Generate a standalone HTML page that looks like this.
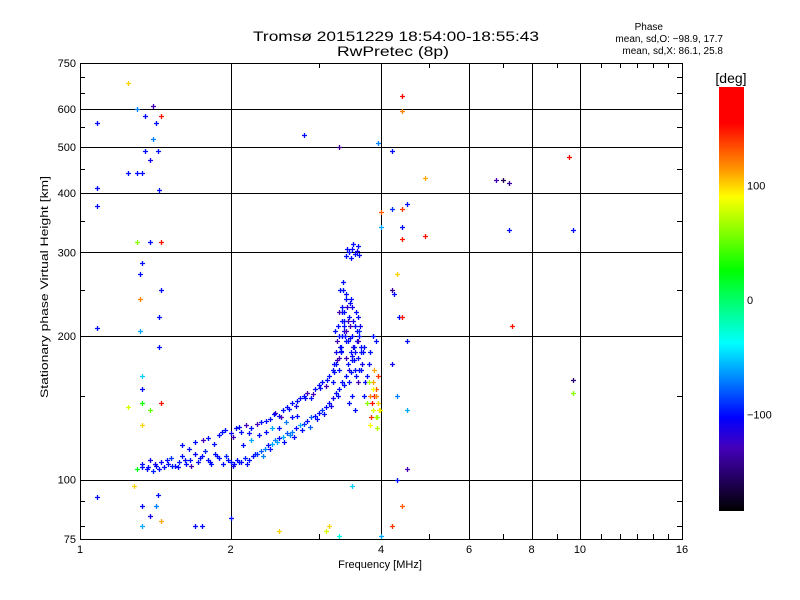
<!DOCTYPE html>
<html><head><meta charset="utf-8"><style>
body{margin:0;background:#fff;}
svg{display:block;font-family:"Liberation Sans",sans-serif;}
</style></head><body>
<svg id="chart" width="800" height="600" viewBox="0 0 800 600">
<rect width="800" height="600" fill="#fff"/>
<text x="396" y="41" font-size="14" text-anchor="middle" textLength="286" lengthAdjust="spacingAndGlyphs">Tromsø 20151229 18:54:00-18:55:43</text>
<text x="393" y="56" font-size="14" text-anchor="middle" textLength="112" lengthAdjust="spacingAndGlyphs">RwPretec (8p)</text>
<g font-size="10" text-anchor="end">
<text x="663" y="30">Phase</text>
<text x="723" y="42">mean, sd,O: −98.9, 17.7</text>
<text x="723" y="54">mean, sd,X:  86.1, 25.8</text>
</g>
<g id="grid"></g>
<g id="points"></g>
<rect x="80.5" y="63.5" width="602" height="476" fill="none" stroke="#000"/>
<g id="xticks" font-size="11" text-anchor="middle"></g>
<g id="yticks" font-size="11" text-anchor="end"></g>
<text x="380" y="568" font-size="11" text-anchor="middle">Frequency [MHz]</text>
<text transform="translate(48,287) rotate(-90)" font-size="11" text-anchor="middle" textLength="222" lengthAdjust="spacingAndGlyphs">Stationary phase Virtual Height [km]</text>
<defs><linearGradient id="cb" x1="0" y1="0" x2="0" y2="1">
<stop offset="0" stop-color="#ff0000"/><stop offset="0.085" stop-color="#ff0000"/><stop offset="0.196" stop-color="#ff9900"/><stop offset="0.259" stop-color="#ffff00"/><stop offset="0.432" stop-color="#00ff00"/><stop offset="0.604" stop-color="#00ffff"/><stop offset="0.78" stop-color="#0000ff"/><stop offset="0.85" stop-color="#4400bb"/><stop offset="1" stop-color="#000000"/>
</linearGradient></defs>
<rect x="719" y="87" width="25" height="424" fill="url(#cb)"/>
<text x="731" y="83" font-size="14" text-anchor="middle">[deg]</text>
<g id="cbticks" font-size="11"></g>
</svg>
<script>
const xTicks=[1,2,4,6,8,10,16];
const xGrid=[2,4,6,8,10];
const xMinor=[3,5,7,9,11,12,13,14,15];
const yTicks=[75,100,200,300,400,500,600,750];
const yGrid=[100,200,300,400,500,600];
const yMinor=[80,90,150,250,350,450,550,650,700];
const cbTicks=[100,0,-100];
const freqs=[1.33,1.36,1.38,1.40,1.42,1.45,1.47,1.50,1.52,1.55,1.58,1.60,1.63,1.66,1.70,1.72,1.75,1.78,1.80,1.83,1.86,1.90,1.93,1.96,2.00,2.03,2.06,2.10,2.14,2.18,2.22,2.26,2.30,2.34,2.38,2.42,2.46,2.50,2.55,2.60,2.65,2.70,2.75,2.80,2.85,2.90,2.95,3.00,3.05,3.10,3.15,3.20,3.25,3.30,3.35,3.40,3.45,3.50,3.55,3.58,3.62,3.65,
2.12,2.2,2.28,2.35,2.42,2.5,2.58,2.65,2.72,
1.6,1.7,1.8,1.9,1.95,2.0,2.05,2.1,2.15,2.2,2.3,2.4,2.45,2.5,2.55,2.6,2.65,2.7,2.75,2.8,2.85,2.9,2.95,3.0,3.05,3.1,3.15,3.2,3.25,3.3,3.32,3.35,3.37,3.38,3.4,3.36,3.42,
3.2,3.25,3.3,3.3,3.35,3.4,3.4,3.45,3.45,3.5,3.5,3.5,3.55,3.55,3.6,3.6,3.6,3.65,3.7,3.7,3.75,3.8,3.85,3.9,3.28,3.48,3.52,3.62,3.45,3.55,3.35,
3.40,3.45,3.50,3.55,3.6,3.48,3.58,3.42,3.52,3.62,
3.8,3.85,3.9,3.95,3.85,3.9,3.8,3.95,3.75,3.88,3.92,
1.08,1.08,1.08,1.08,1.08,1.25,1.3,1.33,1.25,1.3,1.35,1.4,1.42,1.45,1.4,1.35,1.43,1.38,1.44,1.3,1.38,1.45,1.33,1.32,1.45,1.32,1.44,1.32,1.44,1.33,1.33,1.25,1.33,1.45,1.38,1.33,1.3,1.33,1.28,1.43,1.33,1.42,1.38,1.45,1.33,1.7,1.75,2.0,2.5,3.1,3.15,3.3,3.5,4.0,4.2,4.4,4.3,4.5,4.5,4.3,4.2,4.35,4.5,4.2,4.25,4.3,4.4,4.4,4.4,4.5,4.4,4.2,4.0,4.0,3.95,4.2,4.4,4.4,4.9,4.9,2.8,3.3,6.8,7.0,7.2,7.2,7.3,9.5,9.7,9.7,9.7,
1.37,1.41,1.44,1.49,1.53,1.57,1.62,1.67,1.74,1.82,1.88,1.98,2.02,2.08,2.16,2.24,2.32,2.4,2.48,2.56,2.63,2.68,2.78,2.88,2.98,3.08,3.18,3.28,3.38,3.48,
1.65,1.76,1.85,1.92,2.02,2.08,2.18,2.26,2.36,2.44,2.52,2.62,2.72,2.82,2.92,3.02,3.12,3.22,3.27,3.33,
3.22,3.26,3.31,3.34,3.38,3.41,3.43,3.46,3.49,3.51,3.53,3.56,3.59,3.61,3.64,3.67,3.72,3.78,3.24,3.29,3.33,3.39,3.44,3.47,3.54,3.57,3.63,3.68,3.36,3.4,3.44,3.5,3.31,3.38,3.46,3.58,
3.82,3.86,3.91,3.97,3.78,3.84,3.93,3.87,3.99];
const heights=[108,105,110,104,107,109,106,108,111,107,109,112,108,110,113,109,112,115,110,108,113,111,108,112,109,108,110,109,111,110,112,113,115,116,118,119,121,122,123,125,126,128,130,131,133,135,136,138,140,142,145,148,152,155,160,165,170,178,185,195,205,190,
118,121,124,126,128,128,132,135,136,
118,120,122,124,127,125,128,126,130,128,132,134,138,136,140,142,145,143,148,150,152,148,155,158,160,157,165,170,175,180,190,200,210,225,240,250,230,
160,185,200,170,215,180,195,160,220,150,200,230,170,210,160,180,220,170,150,190,165,185,200,195,210,240,190,200,145,140,230,
295,300,305,298,310,292,302,305,312,296,
150,140,155,145,160,135,130,165,145,150,128,
560,410,375,208,92,440,440,440,680,600,580,610,560,580,520,490,490,470,405,315,315,315,285,270,250,240,220,205,190,165,155,142,145,145,140,130,105,106,97,93,88,88,84,82,80,80,80,83,78,78,80,76,97,76,80,88,100,105,140,150,175,220,195,250,245,270,220,320,340,380,370,370,340,365,510,490,595,640,430,325,530,500,425,425,420,335,210,475,335,162,152,
106,108,105,110,107,106,110,107,111,109,112,110,107,109,108,113,112,116,120,120,124,123,127,129,134,137,143,150,158,168,
116,121,119,126,123,129,125,131,133,137,135,141,146,148,151,156,162,168,178,186,
175,195,190,225,205,245,215,235,185,215,178,225,195,170,185,175,160,175,205,225,185,200,175,210,190,165,210,185,260,205,195,182,250,215,198,205,
135,155,150,140,160,145,135,170,140];
const phases=[-100,-100,-110,-95,-100,-105,-100,-100,-90,-100,-95,-100,-100,-100,-105,-100,-100,-95,-100,-100,-100,-100,-100,-95,-100,-100,-100,-100,-95,-100,-100,-90,-80,-70,-100,-60,-70,-100,-60,-80,-70,-100,-60,-90,-100,-80,-100,-100,-90,-100,-100,-110,-100,-100,-100,-100,-110,-100,-100,-100,-90,-100,
-100,-60,-100,-100,-60,-100,-70,-100,-100,
-100,-100,-100,-100,-100,-110,-100,-100,-130,-100,-100,-100,-130,-100,-100,-100,-100,-110,-100,-100,-130,-100,-100,-100,-100,-130,-100,-100,-100,-130,-100,-100,-100,-100,-100,-100,-120,
-100,-110,-100,-100,-100,-130,-100,-100,-100,-100,-100,-110,-100,-100,-130,-100,-100,-100,-100,-100,-100,-100,-100,-100,-100,-100,-130,-100,-100,-100,-100,
-100,-100,-100,-100,-100,-100,-110,-100,-100,-100,
120,80,130,100,110,80,90,140,60,150,70,
-100,-100,-100,-100,-100,-100,-100,-100,100,-70,-100,-130,-100,150,-70,-100,-100,-110,-100,60,-100,150,-100,-100,-100,120,-100,-60,-100,-50,-100,80,30,150,50,100,20,-100,100,-100,-100,-70,-110,110,-60,-100,-100,-100,100,80,100,-30,-50,-60,140,130,-100,-130,-60,-70,-110,-100,-100,-140,-100,100,150,150,-100,-100,140,-90,-60,130,-70,-100,120,170,110,150,-100,-140,-130,-160,-140,-100,150,160,-100,-150,60,
-100,-110,-100,-100,-95,-100,-100,-130,-100,-100,-100,-100,-110,-100,-100,-95,-70,-100,-60,-100,-70,-100,-100,-80,-100,-100,-110,-100,-100,-100,
-100,-130,-100,-100,-130,-100,-100,-130,-100,-100,-130,-100,-100,-100,-130,-100,-100,-100,-130,-100,
-100,-130,-100,-100,-110,-100,-130,-100,-100,-110,-100,-100,-130,-100,-100,-110,-100,-100,-100,-130,-100,-100,-100,-130,-100,-100,-110,-100,-100,-130,-100,-100,-100,-100,-100,-100,
140,90,120,100,70,150,60,110,90];

const X0=80,PW=602,Y0=539,PH=476;
function xs(f){return X0+PW*Math.log(f)/Math.log(16);}
function ys(h){return Y0-PH*Math.log10(h/75);}
function cbY(p){return 300-p*1.145;}
const stops=[[0,[255,0,0]],[0.085,[255,0,0]],[0.196,[255,153,0]],[0.259,[255,255,0]],[0.432,[0,255,0]],[0.604,[0,255,255]],[0.78,[0,0,255]],[0.85,[68,0,187]],[1,[0,0,0]]];
function color(p){let t=(cbY(p)-87)/424;t=Math.max(0,Math.min(1,t));
for(let i=1;i<stops.length;i++){if(t<=stops[i][0]){const a=stops[i-1],b=stops[i];const u=(t-a[0])/((b[0]-a[0])||1);
return 'rgb('+a[1].map((c,k)=>Math.round(c+(b[1][k]-c)*u)).join(',')+')';}}return '#000';}
const NS='http://www.w3.org/2000/svg';
function el(tag,attrs,parent){const e=document.createElementNS(NS,tag);for(const k in attrs)e.setAttribute(k,attrs[k]);parent.appendChild(e);return e;}
const grid=document.getElementById('grid'),xt=document.getElementById('xticks'),yt=document.getElementById('yticks'),pts=document.getElementById('points'),cbt=document.getElementById('cbticks');
xGrid.forEach(f=>{const x=Math.round(xs(f))+0.5;const l=el('line',{x1:x,x2:x,y1:63,y2:539,stroke:'#000'},grid);

});
yGrid.forEach(h=>{const y=Math.round(ys(h))+0.5;const l=el('line',{x1:80,x2:682,y1:y,y2:y,stroke:'#000'},grid);

});
xMinor.forEach(f=>{const x=Math.round(xs(f))+0.5;el('line',{x1:x,x2:x,y1:63,y2:68,stroke:'#000'},grid);el('line',{x1:x,x2:x,y1:534,y2:539,stroke:'#000'},grid);});
yMinor.forEach(h=>{const y=Math.round(ys(h))+0.5;el('line',{x1:80,x2:85,y1:y,y2:y,stroke:'#000'},grid);el('line',{x1:677,x2:682,y1:y,y2:y,stroke:'#000'},grid);});
xTicks.forEach(f=>{const t=el('text',{x:xs(f),y:553},xt);t.textContent=f;

});
yTicks.forEach(h=>{const t=el('text',{x:76,y:ys(h)+4},yt);t.textContent=h;

});
cbTicks.forEach(p=>{const y=cbY(p);const t=el('text',{x:747,y:y+4},cbt);t.textContent=p<0?'\u2212'+(-p):p;

});
for(let i=0;i<freqs.length;i++){const x=Math.round(xs(freqs[i])),y=Math.round(ys(heights[i]));const c=color(phases[i]);
const p=el('path',{d:`M${x-2} ${y+0.5}h5M${x+0.5} ${y-2}v5`,stroke:c,'stroke-width':1.3},pts);

}
</script>
</body></html>
